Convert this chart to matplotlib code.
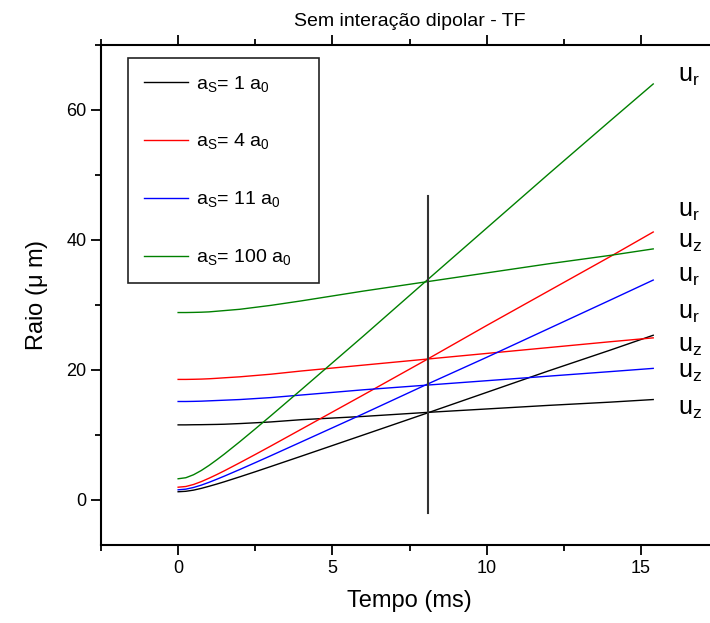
import matplotlib
matplotlib.use("Agg")
import matplotlib.pyplot as plt
from matplotlib.ticker import MultipleLocator

plt.rcParams['font.family'] = ['Liberation Sans', 'DejaVu Sans']
plt.rcParams['mathtext.fontset'] = 'custom'
plt.rcParams['mathtext.rm'] = 'Liberation Sans'
plt.rcParams['mathtext.it'] = 'Liberation Sans'

# tempo (ms)
t = [0, 0.25, 0.5, 0.75, 1, 1.25, 1.5, 2, 2.5, 3, 4, 6, 8, 10, 12, 14, 15.4]

# raio radial u_r (um)
ur_1 = [1.2, 1.27, 1.45, 1.72, 2.04, 2.38, 2.74, 3.50, 4.28, 5.08, 6.69, 9.94,
        13.2, 16.5, 19.8, 23.0, 25.3]
ur_4 = [1.9, 2.01, 2.32, 2.76, 3.28, 3.84, 4.43, 5.67, 6.94, 8.23, 10.85, 16.1,
        21.4, 26.8, 32.1, 37.4, 41.2]
ur_11 = [1.5, 1.60, 1.86, 2.22, 2.65, 3.12, 3.61, 4.63, 5.68, 6.74, 8.89, 13.2,
         17.6, 21.9, 26.3, 30.7, 33.8]
ur_100 = [3.2, 3.36, 3.82, 4.47, 5.25, 6.11, 7.01, 8.91, 10.88, 12.88, 16.95, 25.16,
          33.5, 41.8, 50.1, 58.3, 64.0]

# raio axial u_z (um)
uz_1 = [11.5, 11.5, 11.52, 11.53, 11.55, 11.57, 11.6, 11.7, 11.82, 11.95, 12.3, 12.8,
        13.4, 13.95, 14.5, 15.0, 15.4]
uz_4 = [18.5, 18.5, 18.52, 18.55, 18.6, 18.67, 18.75, 18.9, 19.1, 19.3, 19.8, 20.7,
        21.6, 22.5, 23.4, 24.3, 24.9]
uz_11 = [15.1, 15.1, 15.12, 15.15, 15.2, 15.25, 15.3, 15.4, 15.55, 15.7, 16.1, 16.9,
         17.6, 18.3, 19.0, 19.7, 20.2]
uz_100 = [28.8, 28.8, 28.82, 28.85, 28.9, 29.0, 29.1, 29.3, 29.6, 29.9, 30.6, 32.1,
          33.5, 34.9, 36.3, 37.6, 38.6]

labels = [r'$\mathrm{a_S}$= 1 $\mathrm{a_0}$', r'$\mathrm{a_S}$= 4 $\mathrm{a_0}$',
          r'$\mathrm{a_S}$= 11 $\mathrm{a_0}$', r'$\mathrm{a_S}$= 100 $\mathrm{a_0}$']
colors = ['black', 'red', 'blue', 'green']

# instante marcado
t_mark = 8.1
mark_range = [-2.0, 46.7]

# rotulos a direita
side_text = [r'$\mathrm{u_r}$', r'$\mathrm{u_r}$', r'$\mathrm{u_z}$', r'$\mathrm{u_r}$',
             r'$\mathrm{u_r}$', r'$\mathrm{u_z}$', r'$\mathrm{u_z}$', r'$\mathrm{u_z}$']
side_y = [65.3, 44.5, 39.6, 34.5, 28.8, 23.7, 19.6, 14.0]

fig = plt.figure(figsize=(7.1, 6.23), dpi=100)
ax = fig.add_axes([101 / 710, 1 - 545 / 623, 617 / 710, 500 / 623])

ur_all = [ur_1, ur_4, ur_11, ur_100]
uz_all = [uz_1, uz_4, uz_11, uz_100]
for ur, uz, c, lab in zip(ur_all, uz_all, colors, labels):
    ax.plot(t, uz, color=c, lw=1.0, label=lab + '   ')
    ax.plot(t, ur, color=c, lw=1.0)

ax.plot([t_mark, t_mark], mark_range, color='#333333', lw=1.5)

for s, y in zip(side_text, side_y):
    ax.text(16.2, y, s, fontsize=18, va='center', ha='left')

ax.set_xlim(-2.5, 17.5)
ax.set_ylim(-7, 70)
ax.xaxis.set_major_locator(MultipleLocator(5))
ax.xaxis.set_minor_locator(MultipleLocator(2.5))
ax.yaxis.set_major_locator(MultipleLocator(20))
ax.yaxis.set_minor_locator(MultipleLocator(10))
ax.tick_params(which='both', direction='out', top=True, labeltop=False, width=1.3,
               labelsize=13)
ax.tick_params(which='major', length=7)
ax.tick_params(which='minor', length=4)
ax.spines['right'].set_visible(False)
for sp in ['left', 'top', 'bottom']:
    ax.spines[sp].set_linewidth(1.5)

ax.set_xlabel('Tempo (ms)', fontsize=17, labelpad=10)
ax.set_ylabel(r'Raio ($\mathrm{\mu}$ m)', fontsize=17, labelpad=12)
ax.set_title('Sem interação dipolar - TF', fontsize=14, pad=14)

leg = ax.legend(loc='upper left', bbox_to_anchor=(27 / 617, 1 - 13 / 500),
                borderaxespad=0, fontsize=14,
                labelspacing=1.95, handlelength=2.3, handletextpad=0.4,
                borderpad=0.8, fancybox=False, framealpha=1, edgecolor='#222222')
leg.get_frame().set_linewidth(1.2)

fig.savefig('out.png', dpi=100)
